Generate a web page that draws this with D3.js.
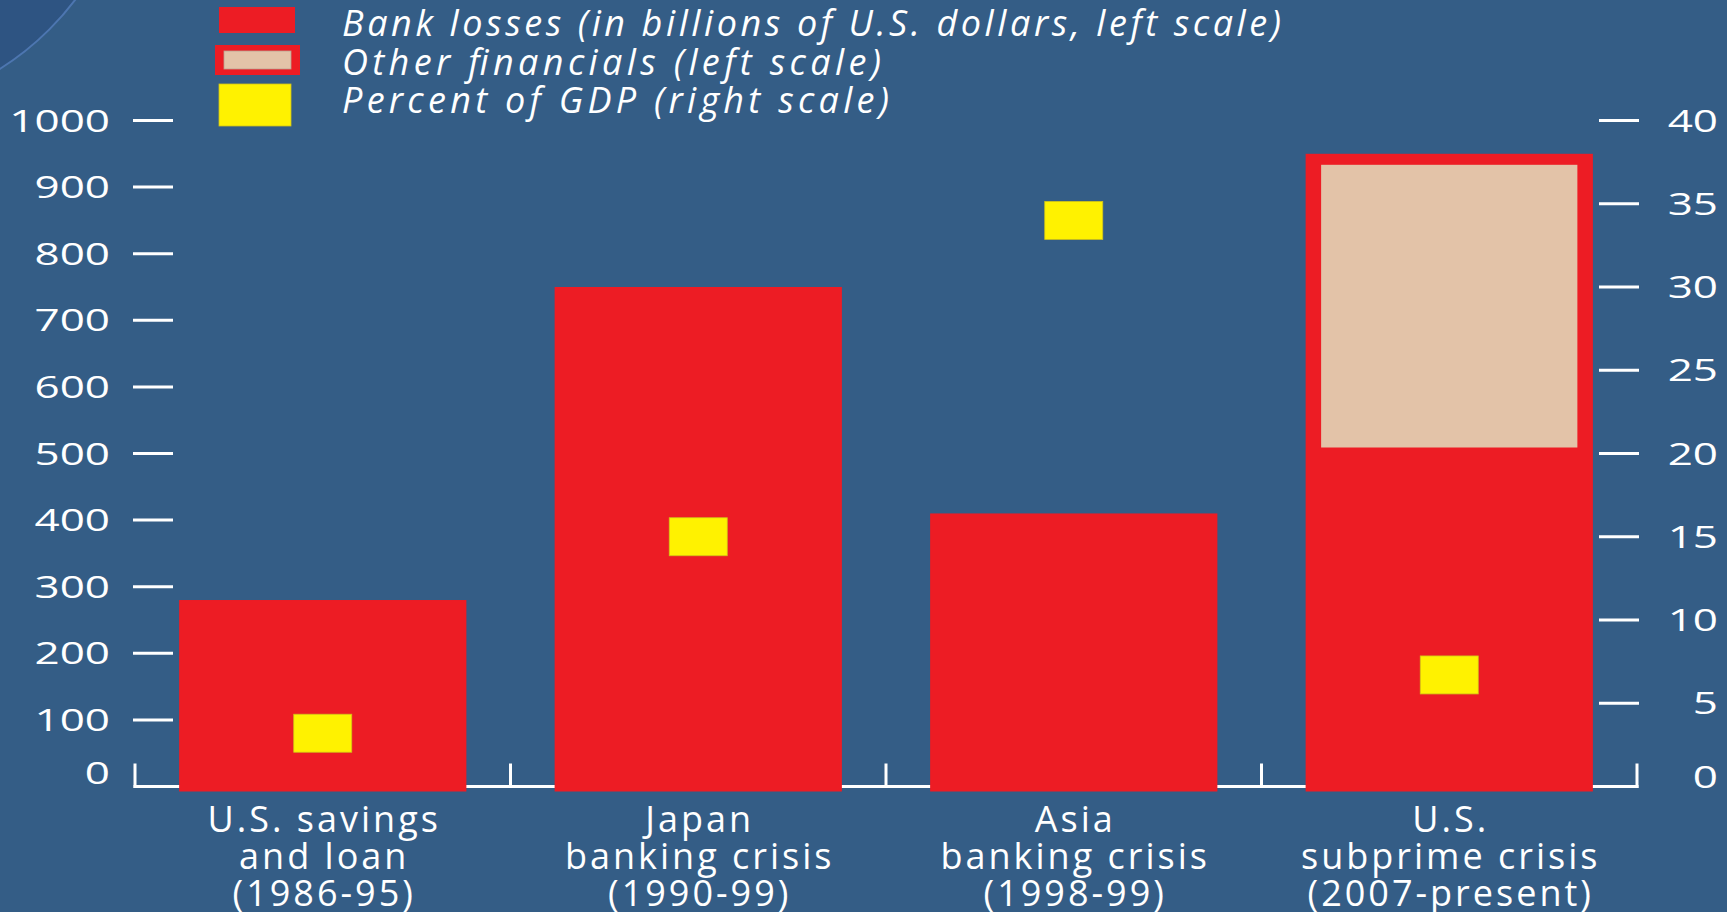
<!DOCTYPE html>
<html><head><meta charset="utf-8">
<script src="https://cdn.jsdelivr.net/npm/d3@7"></script>
<style>html,body{margin:0;padding:0;background:#345d86;overflow:hidden}</style>
</head><body><svg id="c" width="1727" height="912"></svg>
<script>
// ---- data ----
const categories = ["U.S. savings and loan (1986-95)", "Japan banking crisis (1990-99)", "Asia banking crisis (1998-99)", "U.S. subprime crisis (2007-present)"];
const categoryLines = [["U.S. savings", "and loan", "(1986-95)"], ["Japan", "banking crisis", "(1990-99)"], ["Asia", "banking crisis", "(1998-99)"], ["U.S.", "subprime crisis", "(2007-present)"]];
const bankLosses = [280, 750, 410, 500];
const otherFinancials = [0, 0, 0, 450];
const pctGDP = [3.2, 15, 34, 6.7];
const leftTicks = [0, 100, 200, 300, 400, 500, 600, 700, 800, 900, 1000];
const rightTicks = [0, 5, 10, 15, 20, 25, 30, 35, 40];
const legendLabels = ["Bank losses (in billions of U.S. dollars, left scale)", "Other financials (left scale)", "Percent of GDP (right scale)"];

// ---- styles ----
const BG = "#345d86", RED = "#ed1c24", BEIGE = "#e3c3a8", YEL = "#fff200", WHITE = "#ffffff";

const svg = d3.select("#c");
svg.append("rect").attr("width", 1727).attr("height", 912).attr("fill", BG);
// decorative arc, top-left
svg.append("circle").attr("cx", -150).attr("cy", -170).attr("r", 282)
  .attr("fill", "#2e5482").attr("stroke", "#4d76b0").attr("stroke-width", 2);

const x = d3.scaleBand().domain(categories).range([135, 1637]).paddingInner(0).paddingOuter(0);
const y = d3.scaleLinear().domain([0, 1000]).range([786.5, 120.5]);
const yR = d3.scaleLinear().domain([0, 40]).range([786.5, 120.5]);
const barW = x.bandwidth() * 0.765;
const cx = i => x(categories[i]) + x.bandwidth() / 2;

// axes lines
const ax = svg.append("g").attr("stroke", WHITE).attr("stroke-width", 3).attr("fill", "none");
ax.selectAll("line.lt").data(leftTicks.filter(d => d > 0)).join("line")
  .attr("x1", 133).attr("x2", 173).attr("y1", d => y(d)).attr("y2", d => y(d));
ax.selectAll("line.rt").data(rightTicks.filter(d => d > 0)).join("line")
  .attr("x1", 1599).attr("x2", 1639).attr("y1", d => yR(d)).attr("y2", d => yR(d));
ax.append("line").attr("x1", 133.5).attr("x2", 1638.5).attr("y1", y(0)).attr("y2", y(0));
const bounds = categories.map(d => x(d)).concat([x.range()[1]]);
ax.selectAll("line.bt").data(bounds).join("line")
  .attr("x1", d => d).attr("x2", d => d).attr("y1", y(0) - 23).attr("y2", y(0) + 1.5);

// bars (drawn over the baseline)
const g = svg.append("g");
g.selectAll("rect.total").data(categories).join("rect")
  .attr("x", (d, i) => cx(i) - barW / 2)
  .attr("y", (d, i) => y(bankLosses[i] + otherFinancials[i]))
  .attr("width", barW)
  .attr("height", (d, i) => y(0) + 5 - y(bankLosses[i] + otherFinancials[i]))
  .attr("fill", RED);
g.selectAll("rect.other").data(categories.filter((d, i) => otherFinancials[i] > 0)).join("rect")
  .each(function (d) {
    const i = categories.indexOf(d);
    d3.select(this)
      .attr("x", cx(i) - barW / 2 + 15.5)
      .attr("y", y(bankLosses[i] + otherFinancials[i]) + 11)
      .attr("width", barW - 31)
      .attr("height", (y(bankLosses[i]) - 6) - (y(bankLosses[i] + otherFinancials[i]) + 11))
      .attr("fill", BEIGE);
  });

// percent of GDP markers
svg.append("g").selectAll("rect").data(pctGDP).join("rect")
  .attr("x", (d, i) => cx(i) - 29).attr("y", d => yR(d) - 19)
  .attr("width", 58).attr("height", 38)
  .attr("fill", YEL).attr("stroke", "#cfc21a").attr("stroke-width", 0.8);

// tick labels (wide digits)
const lab = svg.append("g").attr("fill", WHITE).attr("font-family", "'Open Sans', sans-serif").attr("font-size", 31);
lab.selectAll("g.l").data(leftTicks).join("g")
  .attr("transform", d => `translate(110,${y(d) + (d === 0 ? -14 : 0)}) scale(1.42,1)`)
  .append("text").attr("text-anchor", "end").attr("dy", "0.36em").text(d => d);
lab.selectAll("g.r").data(rightTicks).join("g")
  .attr("transform", d => `translate(1718,${yR(d) + (d === 0 ? -10 : 0)}) scale(1.42,1)`)
  .append("text").attr("text-anchor", "end").attr("dy", "0.36em").text(d => d);

// category labels
const cl = svg.append("g").attr("fill", WHITE).attr("font-family", "'Open Sans', sans-serif")
  .attr("font-size", 36).attr("letter-spacing", "3px").attr("text-anchor", "middle");
categoryLines.forEach((lines, i) => {
  lines.forEach((t, j) => {
    cl.append("text").attr("x", cx(i) + 1.5).attr("y", 832 + j * 37).text(t);
  });
});

// legend
const lg = svg.append("g");
lg.append("rect").attr("x", 219).attr("y", 7).attr("width", 76).attr("height", 26).attr("fill", RED);
lg.append("rect").attr("x", 215).attr("y", 45).attr("width", 85).attr("height", 30).attr("fill", RED);
lg.append("rect").attr("x", 224).attr("y", 51).attr("width", 67).attr("height", 18).attr("fill", BEIGE)
  .attr("stroke", "#b8a090").attr("stroke-width", 0.8);
lg.append("rect").attr("x", 219).attr("y", 84).attr("width", 72).attr("height", 42).attr("fill", YEL)
  .attr("stroke", "#cfc21a").attr("stroke-width", 0.8);
const legW = [939, 539, 547];
const legY = [36, 75, 113];
lg.selectAll("text").data(legendLabels).join("text")
  .attr("x", 342).attr("y", (d, i) => legY[i])
  .attr("font-family", "'Open Sans', sans-serif").attr("font-style", "italic").attr("font-size", 36)
  .attr("fill", WHITE)
  .attr("textLength", (d, i) => legW[i]).attr("lengthAdjust", "spacing")
  .text(d => d);
</script>
</body></html>
